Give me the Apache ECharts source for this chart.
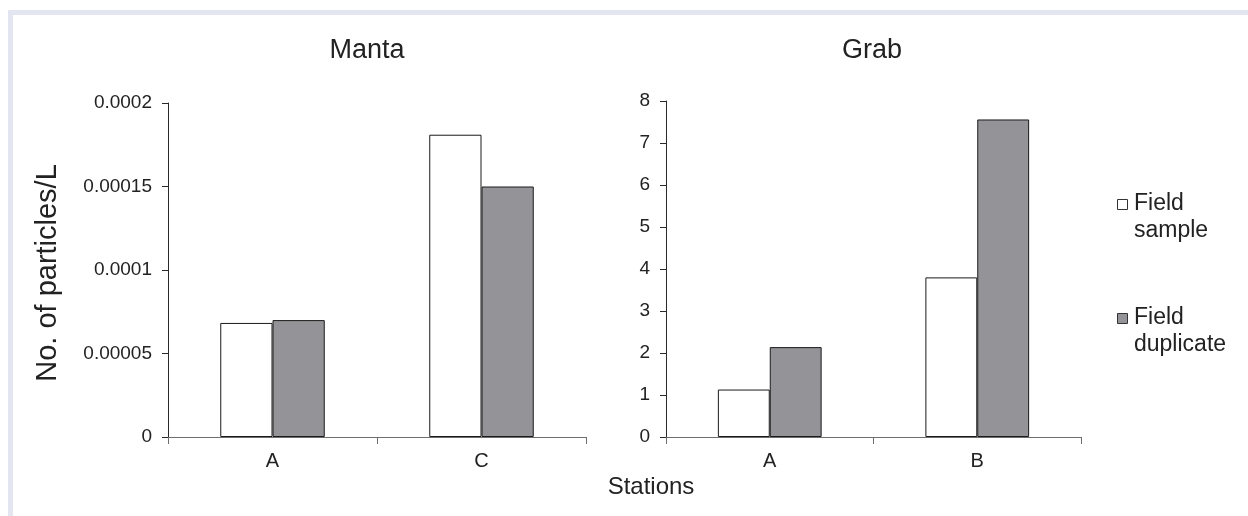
<!DOCTYPE html>
<html>
<head>
<meta charset="utf-8">
<script src="https://cdn.jsdelivr.net/npm/echarts@6/dist/echarts.min.js"></script>
<style>
  html, body { margin: 0; padding: 0; background: #ffffff; }
  #chart { width: 1248px; height: 516px; }
</style>
</head>
<body>
<div id="chart"></div>
<script>
// Particle counts per litre at each station, two sampling methods
const mantaStations = ['A', 'C'];
const grabStations = ['A', 'B'];
const seriesNames = ['Field sample', 'Field duplicate'];
const legendLines = [['Field', 'sample'], ['Field', 'duplicate']];

const mantaSample = [0.0000683, 0.000181];
const mantaDuplicate = [0.0000700, 0.000150];
const grabSample = [1.13, 3.80];
const grabDuplicate = [2.14, 7.56];

const mantaTicks = ['0', '0.00005', '0.0001', '0.00015', '0.0002'];
const grabTicks = ['0', '1', '2', '3', '4', '5', '6', '7', '8'];

const FONT = '"Liberation Sans", Arial, sans-serif';
const TEXT = '#222222';
const fills = ['#ffffff', '#949498'];
const frameColor = '#e3e6f1';

const chart = echarts.init(document.getElementById('chart'), null, { renderer: 'canvas' });

function xAxisFor(gridIndex, cats) {
  return {
    type: 'category', gridIndex, data: cats, boundaryGap: true,
    axisLine: { lineStyle: { color: '#6e6e6e', width: 1 } },
    axisTick: { show: true, length: 7, lineStyle: { color: '#6e6e6e' } },
    axisLabel: { color: TEXT, fontFamily: FONT, fontSize: 20, margin: 14 },
    splitLine: { show: false }
  };
}

function yAxisFor(gridIndex, max, interval, labels) {
  return {
    type: 'value', gridIndex, min: 0, max, interval,
    axisLine: { show: true, lineStyle: { color: '#2a2a2a', width: 1 } },
    axisTick: { show: true, length: 6, lineStyle: { color: '#2a2a2a' } },
    axisLabel: {
      color: TEXT, fontFamily: FONT, fontSize: 19, margin: 16,
      formatter: v => labels[Math.round(v / interval)]
    },
    splitLine: { show: false }
  };
}

function barSeries(name, x, y, data, fill) {
  return {
    name, type: 'bar', xAxisIndex: x, yAxisIndex: y, data,
    barCategoryGap: '50%', barGap: '0%',
    itemStyle: { color: fill, borderColor: '#1a1a1a', borderWidth: 1 },
    silent: true, animation: false
  };
}

function label(text, x, y, size, extra) {
  return Object.assign({
    type: 'text', x, y,
    style: {
      text, fill: TEXT, font: size + 'px ' + FONT,
      textAlign: 'center', textVerticalAlign: 'middle'
    }
  }, extra || {});
}

// Legend drawn as swatch + two-line label, swatch aligned to the first line
const legendGraphics = [];
const legendTop = [199, 313];
seriesNames.forEach((name, i) => {
  legendGraphics.push({
    type: 'rect', left: 1117, top: legendTop[i],
    shape: { width: 10, height: 10 },
    style: { fill: fills[i], stroke: '#333333', lineWidth: 1 }
  });
  legendGraphics.push({
    type: 'text', left: 1134, top: legendTop[i] - 9,
    style: {
      text: legendLines[i].join('\n'), fill: TEXT,
      font: '23px ' + FONT, lineHeight: 27
    }
  });
});

chart.setOption({
  animation: false,
  backgroundColor: '#ffffff',
  grid: [
    { left: 168, top: 103, width: 418, height: 334, containLabel: false },
    { left: 666, top: 101, width: 415, height: 336, containLabel: false }
  ],
  xAxis: [xAxisFor(0, mantaStations), xAxisFor(1, grabStations)],
  yAxis: [
    yAxisFor(0, 0.0002, 0.00005, mantaTicks),
    yAxisFor(1, 8, 1, grabTicks)
  ],
  series: [
    barSeries(seriesNames[0], 0, 0, mantaSample, fills[0]),
    barSeries(seriesNames[1], 0, 0, mantaDuplicate, fills[1]),
    barSeries(seriesNames[0], 1, 1, grabSample, fills[0]),
    barSeries(seriesNames[1], 1, 1, grabDuplicate, fills[1])
  ],
  graphic: [
    // page frame along the top and left edges
    { type: 'rect', left: 8, top: 10, shape: { width: 1240, height: 5 }, style: { fill: frameColor } },
    { type: 'rect', left: 8, top: 10, shape: { width: 5, height: 506 }, style: { fill: frameColor } },
    label('Manta', 367, 51, 27),
    label('Grab', 872, 51, 27),
    label('Stations', 651, 487, 24),
    label('No. of particles/L', 48, 273, 29, { rotation: Math.PI / 2 }),
    ...legendGraphics
  ]
});
</script>
</body>
</html>
